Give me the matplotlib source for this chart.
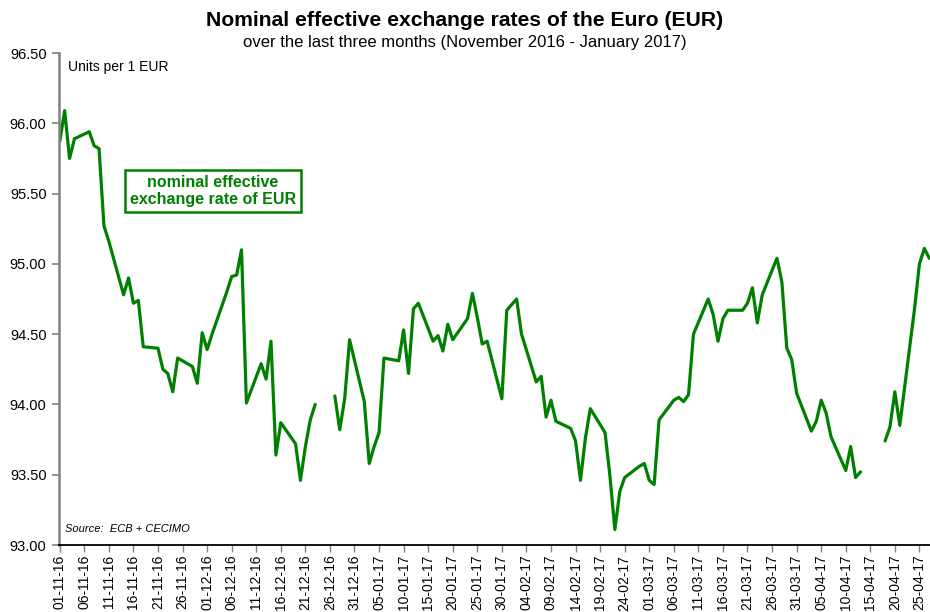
"""
Nominal effective exchange rate of the EUR, Nov 2016 - Apr 2017.
"""

import numpy as np
import pandas as pd
import matplotlib
matplotlib.use('Agg')
import matplotlib.pyplot as plt
import matplotlib.dates as mdates

plt.rcParams['font.family'] = ['Liberation Sans', 'DejaVu Sans']

# business days, empty on ECB holidays (26-12, 14-04, 17-04)
days = pd.bdate_range('2016-11-01', '2017-04-27')

neer = [
    95.87, 96.09, 95.75, 95.89,                 # 01-11 .. 04-11
    95.94, 95.84, 95.82, 95.27, 95.16,
    94.78, 94.90, 94.72, 94.74, 94.41,
    94.40, 94.25, 94.22, 94.09, 94.33,
    94.27, 94.15, 94.51, 94.39, 94.50,
    94.80, 94.91, 94.92, 95.10, 94.01,
    94.29, 94.18, 94.45, 93.64, 93.87,
    93.72, 93.46, 93.70, 93.89, 94.00,
    np.nan, 94.06, 93.82, 94.04, 94.46,         # 26-12 .. 30-12
    94.02, 93.58, 93.70, 93.80, 94.33,
    94.31, 94.53, 94.22, 94.68, 94.72,
    94.45, 94.49, 94.38, 94.57, 94.46,
    94.61, 94.79, 94.62, 94.43, 94.45,
    94.04, 94.67, 94.71, 94.75, 94.50,
    94.16, 94.20, 93.91, 94.03, 93.88,
    93.83, 93.74, 93.46, 93.76, 93.97,
    93.80, 93.49, 93.11, 93.38, 93.48,
    93.56, 93.58, 93.46, 93.43, 93.89,
    94.03, 94.05, 94.02, 94.07, 94.50,
    94.75, 94.64, 94.45, 94.61, 94.67,
    94.67, 94.72, 94.83, 94.58, 94.78,
    95.04, 94.87, 94.40, 94.32, 94.08,
    93.81, 93.88, 94.03, 93.94, 93.77,
    93.53, 93.70, 93.48, 93.52, np.nan,
    np.nan, 93.74, 93.84, 94.09, 93.85,
    94.68, 95.00, 95.11, 95.04,                 # 24-04 .. 27-04
]
assert len(neer) == len(days)

tick_days = pd.date_range('2016-11-01', '2017-04-25', freq='5D')
y_ticks = np.arange(93.0, 96.51, 0.5)

title = 'Nominal effective exchange rates of the Euro (EUR)'
subtitle = 'over the last three months (November 2016 - January 2017)'
green = '#008000'

fig = plt.figure(figsize=(9.3, 6.12), dpi=100)
ax = fig.add_axes([59/930., 1 - 545/612., 871/930., 492/612.])

ax.plot(days, neer, color=green, lw=2.3, solid_joinstyle='round', solid_capstyle='round')

x0 = mdates.date2num(days[0]) - 0.15
ax.set_xlim(x0, x0 + 177.3)
ax.set_ylim(93.0, 96.5)

ax.set_xticks(tick_days)
ax.xaxis.set_major_formatter(mdates.DateFormatter('%d-%m-%y'))
ax.set_yticks(y_ticks)
ax.set_yticklabels(['{0:.2f}'.format(v) for v in y_ticks])
ax.tick_params(axis='x', labelrotation=90, labelsize=10, length=5, width=1, color='#808080', pad=2)
ax.tick_params(axis='y', labelsize=10.5, length=5, width=1.2, color='#808080', pad=4)

for side in ['top', 'right']:
    ax.spines[side].set_visible(False)
ax.spines['left'].set_color('#808080')
ax.spines['left'].set_linewidth(1.8)
ax.spines['bottom'].set_color('black')
ax.spines['bottom'].set_linewidth(1.3)

fig.text(0.5, 1 - 20/612., title, ha='center', va='center', fontsize=15.2, fontweight='bold')
fig.text(0.5, 1 - 43/612., subtitle, ha='center', va='center', fontsize=12)

ax.text(68/930., 1 - 67/612., 'Units per 1 EUR', transform=fig.transFigure, ha='left', va='center', fontsize=10)
ax.text(65/930., 1 - 529/612., 'Source:  ECB + CECIMO', transform=fig.transFigure, ha='left', va='center',
        fontsize=8, style='italic')

ax.text(213/930., 1 - 191/612., 'nominal effective\nexchange rate of EUR', transform=fig.transFigure,
        ha='center', va='center', fontsize=11.5, fontweight='bold', color=green, linespacing=1.15,
        bbox=dict(boxstyle='square,pad=0.3', fc='white', ec=green, lw=1.8))

plt.savefig('out.png', dpi=100)
